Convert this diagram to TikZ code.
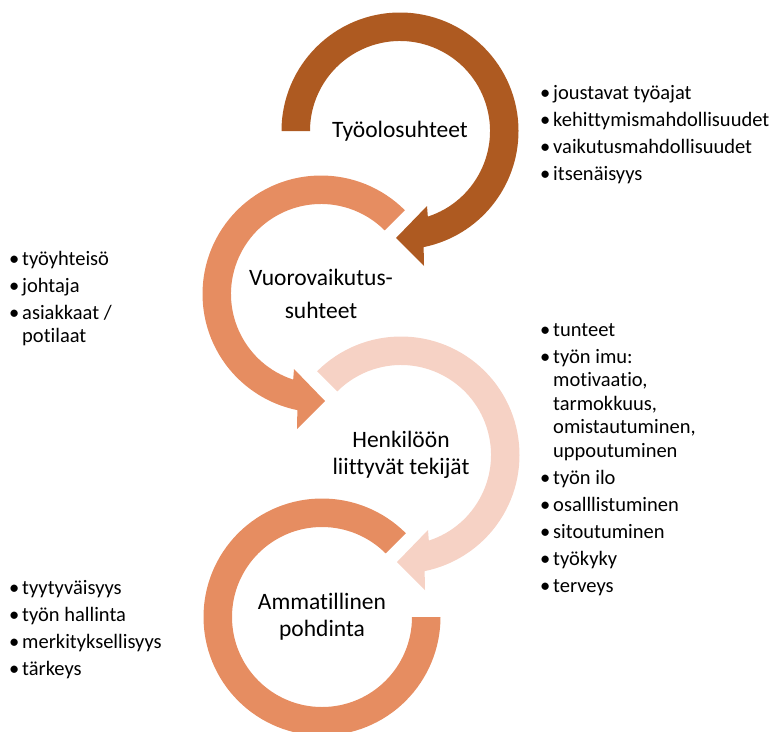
\documentclass[tikz,border=0pt]{standalone}
\usepackage{fontspec}
\setmainfont{Carlito}[Ligatures=NoCommon,Contextuals=NoAlternate]
\usepackage{xcolor}
\usepackage{tikz}
\usetikzlibrary{positioning}
\definecolor{ringDark}{HTML}{AE5A21}
\definecolor{ringMid}{HTML}{E68D61}
\definecolor{ringLight}{HTML}{F6D2C5}
\newcommand{\bul}{\makebox[13pt][l]{•}}
\newcommand{\ind}{\hspace*{13pt}}

\begin{document}
\begin{tikzpicture}[
    x=1pt,y=1pt,
    hub/.style={align=center,inner sep=0pt,font=\fontsize{23.5}{27}\selectfont},
    lst/.style={align=left,anchor=north west,inner sep=0pt,font=\fontsize{20.5}{23.5}\selectfont}
  ]
  \useasboundingbox (0,0) rectangle (779,-731);
  %% Centre labels of the four rings
  \node[hub] (T1) at (400,-131) {Työolosuhteet};
  \node[hub] (T2) at (321,-294) {Vuorovaikutus-\\[6pt]suhteet};
  \node[hub] (T3) at (401,-455) {Henkilöön\\liittyvät tekijät};
  \node[hub] (T4) at (322,-617) {Ammatillinen\\pohdinta};
  %% Rings: clockwise, counter-clockwise, clockwise, open
  \begin{scope}[shift={(T1.center)}]
    \fill[ringDark] (180:118.5) arc[start angle=180,end angle=-78.5,radius=118.5]
      -- (24,-135) -- (-4,-107) -- (27,-75) -- (-72:90)
      arc[start angle=-72,end angle=180,radius=90] -- cycle;
  \end{scope}
  \begin{scope}[shift={(T2.center)}]
    \fill[ringMid] (45:118.5) arc[start angle=45,end angle=258.5,radius=118.5]
      -- (-24,-135) -- (4,-107) -- (-27,-75) -- (252:90)
      arc[start angle=252,end angle=45,radius=90] -- cycle;
  \end{scope}
  \begin{scope}[shift={(T3.center)}]
    \fill[ringLight] (135:118.5) arc[start angle=135,end angle=-78.5,radius=118.5]
      -- (24,-135) -- (-4,-107) -- (27,-75) -- (-72:90)
      arc[start angle=-72,end angle=135,radius=90] -- cycle;
  \end{scope}
  \begin{scope}[shift={(T4.center)}]
    \fill[ringMid] (45:118.5) arc[start angle=45,end angle=360,radius=118.5]
      -- (0:90) arc[start angle=360,end angle=45,radius=90] -- cycle;
  \end{scope}
  %% Bullet lists
  \node[lst] (L1) at (540,-85) {\bul joustavat työajat\\[3.5pt]
    \bul kehittymismahdollisuudet\\[3.5pt]
    \bul vaikutusmahdollisuudet\\[3.5pt]
    \bul itsenäisyys};
  \node[lst] (L2) at (9,-251) {\bul työyhteisö\\[3.5pt]
    \bul johtaja\\[3.5pt]
    \bul asiakkaat /\\
    \ind potilaat};
  \node[lst] (L3) at (540,-323) {\bul tunteet\\[3.5pt]
    \bul työn imu:\\
    \ind motivaatio,\\
    \ind tarmokkuus,\\
    \ind omistautuminen,\\
    \ind uppoutuminen\\[3.5pt]
    \bul työn ilo\\[3.5pt]
    \bul osalllistuminen\\[3.5pt]
    \bul sitoutuminen\\[3.5pt]
    \bul työkyky\\[3.5pt]
    \bul terveys};
  \node[lst] (L4) at (9,-580) {\bul tyytyväisyys\\[3.5pt]
    \bul työn hallinta\\[3.5pt]
    \bul merkityksellisyys\\[3.5pt]
    \bul tärkeys};
\end{tikzpicture}
\end{document}
